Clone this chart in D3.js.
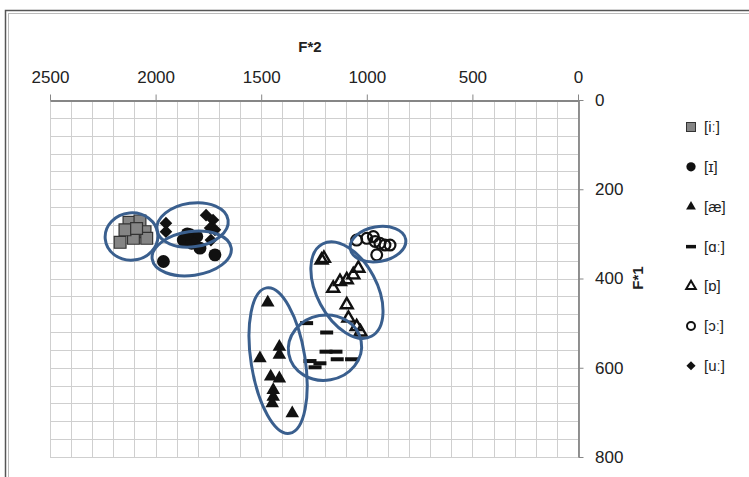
<!DOCTYPE html>
<html>
<head>
<meta charset="utf-8">
<script src="https://cdnjs.cloudflare.com/ajax/libs/d3/7.8.5/d3.min.js"></script>
<style>
  body { margin: 0; background: #fff; }
  text { font-family: "Liberation Sans", "DejaVu Sans", sans-serif; fill: #222; }
</style>
</head>
<body>
<div class="graph"></div>
<script>
var width = 749,
    height = 477;

// vowel tokens: F*2 (x) and F*1 (y)
var ii_f2 = [2126, 2074, 2050, 2168, 2105, 2042, 2145, 2090];
var ii_f1 = [274, 271, 295, 319, 310, 310, 291, 288];

var I_f2 = [1963, 1869, 1837, 1805, 1829, 1790, 1719, 1850];
var I_f1 = [362, 314, 302, 306, 321, 332, 347, 300];

var ae_f2 = [1469, 1506, 1414, 1414, 1455, 1414, 1443, 1443, 1448, 1353];
var ae_f1 = [454, 579, 553, 571, 620, 624, 650, 665, 680, 702];

var aa_f2 = [1285, 1190, 1193, 1146, 1140, 1072, 1269, 1222, 1245];
var aa_f1 = [500, 521, 564, 564, 581, 581, 585, 590, 599];

var o_f2 = [1214, 1203, 1040, 1064, 1095, 1127, 1159, 1095, 1087, 1048, 1030];
var o_f1 = [359, 355, 377, 392, 403, 407, 422, 459, 489, 508, 520];

var oo_f2 = [1048, 1000, 969, 961, 938, 914, 890, 953];
var oo_f1 = [314, 310, 306, 317, 321, 325, 325, 347];

var uu_f2 = [1951, 1951, 1761, 1728, 1742, 1719, 1738];
var uu_f1 = [276, 295, 258, 269, 287, 291, 314];

var labels = ["[iː]", "[ɪ]", "[æ]", "[ɑː]", "[ɒ]", "[ɔː]", "[uː]"];

// hand drawn cluster ellipses: centre f2, centre f1, half f2, half f1, tilt
var ell_f2 = [2114, 1825, 1829, 1420, 1198, 1094, 947];
var ell_f1 = [306, 280, 344, 584, 555, 426, 323];
var ell_r2 = [125, 170, 189, 128, 174, 142, 133];
var ell_r1 = [53, 49, 49, 165, 73, 117, 39];
var ell_rot = [-5, -8, -8, -9, -10, -28, -10];

var xTicks = [2500, 2000, 1500, 1000, 500, 0];
var yTicks = [0, 200, 400, 600, 800];

var svg = d3.select(".graph").append("svg")
    .attr("width", width)
    .attr("height", height);

svg.append("rect").attr("width", width).attr("height", height).attr("fill", "#fff");

// frame
svg.append("rect")
    .attr("x", 5.5).attr("y", 10.5).attr("width", 800).attr("height", 500)
    .attr("fill", "none").attr("stroke", "#555").attr("stroke-width", 1.5);
svg.append("rect")
    .attr("x", 8.5).attr("y", 13.5).attr("width", 800).attr("height", 500)
    .attr("fill", "none").attr("stroke", "#bbb").attr("stroke-width", 1);

var x = d3.scaleLinear().domain([2500, 0]).range([50, 578]);
var y = d3.scaleLinear().domain([0, 800]).range([100, 457]);

// grid
var g = svg.append("g");
g.selectAll(".vg").data(d3.range(0, 2501, 100)).enter().append("line")
    .attr("x1", function(d) { return Math.round(x(d)) + 0.5; })
    .attr("x2", function(d) { return Math.round(x(d)) + 0.5; })
    .attr("y1", y(0)).attr("y2", y(800))
    .attr("stroke", "#cfcfcf");
g.selectAll(".hg").data(d3.range(0, 801, 40)).enter().append("line")
    .attr("y1", function(d) { return Math.round(y(d)) + 0.5; })
    .attr("y2", function(d) { return Math.round(y(d)) + 0.5; })
    .attr("x1", x(2500)).attr("x2", x(0))
    .attr("stroke", "#cfcfcf");

// axes
var xAxis = svg.append("g")
    .attr("transform", "translate(0," + (Math.round(y(0)) + 0.5) + ")")
    .call(d3.axisTop(x).tickValues(xTicks).tickFormat(d3.format("d"))
        .tickSize(6).tickPadding(11.5).tickSizeOuter(0));
var yAxis = svg.append("g")
    .attr("transform", "translate(" + (Math.round(x(0)) + 0.5) + ",0)")
    .call(d3.axisRight(y).tickValues(yTicks).tickFormat(d3.format("d"))
        .tickSize(5).tickPadding(11.5).tickSizeOuter(0));
[xAxis, yAxis].forEach(function(a) {
  a.select(".domain").attr("stroke", "#868686").attr("stroke-width", 1.8);
  a.selectAll(".tick line").attr("stroke", "#868686");
  a.selectAll(".tick text").attr("font-size", 17).attr("fill", "#222")
      .style("font-family", "'Liberation Sans', 'DejaVu Sans', sans-serif");
});

svg.append("text").attr("x", 310).attr("y", 52)
    .attr("text-anchor", "middle").attr("font-size", 15).attr("font-weight", "bold")
    .text("F*2");
svg.append("text").attr("transform", "translate(643,278) rotate(-90)")
    .attr("text-anchor", "middle").attr("font-size", 15).attr("font-weight", "bold")
    .text("F*1");

// markers
function pts(a, b) { return a.map(function(v, i) { return [v, b[i]]; }); }
var series = [
  { pts: pts(ii_f2, ii_f1), type: "square" },
  { pts: pts(I_f2, I_f1), type: "circle" },
  { pts: pts(ae_f2, ae_f1), type: "tri" },
  { pts: pts(aa_f2, aa_f1), type: "dash" },
  { pts: pts(o_f2, o_f1), type: "otri" },
  { pts: pts(oo_f2, oo_f1), type: "ocircle" },
  { pts: pts(uu_f2, uu_f1), type: "diamond" }
];

function drawMarker(sel, type, k) {
  if (type === "square") {
    sel.append("path").attr("d", d3.symbol(d3.symbolSquare, 140 * k * k))
        .attr("fill", "#858585").attr("stroke", "#333").attr("stroke-width", 1.2);
  } else if (type === "circle") {
    sel.append("path").attr("d", d3.symbol(d3.symbolCircle, 130 * k * k)).attr("fill", "#111");
  } else if (type === "tri") {
    sel.append("path").attr("d", d3.symbol(d3.symbolTriangle, 80 * k * k)).attr("fill", "#111");
  } else if (type === "otri") {
    sel.append("path").attr("d", d3.symbol(d3.symbolTriangle, 62 * k * k))
        .attr("fill", "#fff").attr("fill-opacity", 0).attr("stroke", "#111").attr("stroke-width", 2.4);
  } else if (type === "ocircle") {
    sel.append("circle").attr("r", 5.4 * k)
        .attr("fill", "none").attr("stroke", "#111").attr("stroke-width", 2.2);
  } else if (type === "dash") {
    sel.append("rect").attr("x", -6.5 * k).attr("y", -2).attr("width", 13 * k).attr("height", 4)
        .attr("fill", "#111");
  } else if (type === "diamond") {
    sel.append("path").attr("d", d3.symbol(d3.symbolSquare, 80 * k * k))
        .attr("transform", "rotate(45)").attr("fill", "#111");
  }
}

series.forEach(function(s) {
  var m = svg.append("g").selectAll("g").data(s.pts).enter().append("g")
      .attr("transform", function(d) { return "translate(" + x(d[0]) + "," + y(d[1]) + ")"; });
  drawMarker(m, s.type, 1);
});

// cluster ellipses
svg.append("g").selectAll("ellipse").data(d3.range(ell_f2.length)).enter().append("ellipse")
    .attr("transform", function(i) {
      return "translate(" + x(ell_f2[i]) + "," + y(ell_f1[i]) + ") rotate(" + ell_rot[i] + ")";
    })
    .attr("rx", function(i) { return Math.abs(x(ell_f2[i] - ell_r2[i]) - x(ell_f2[i])); })
    .attr("ry", function(i) { return y(ell_f1[i] + ell_r1[i]) - y(ell_f1[i]); })
    .attr("fill", "none").attr("stroke", "#3a5f8e").attr("stroke-width", 3);

// legend
var leg = svg.append("g").selectAll("g").data(labels).enter().append("g")
    .attr("transform", function(d, i) { return "translate(691," + (127 + i * 39.8) + ")"; });
leg.each(function(d, i) {
  var gg = d3.select(this);
  var t = series[i].type;
  if (t === "square") {
    gg.append("rect").attr("x", -4.5).attr("y", -4.5).attr("width", 9).attr("height", 9)
        .attr("fill", "#858585").attr("stroke", "#333").attr("stroke-width", 1);
  } else if (t === "dash") {
    gg.append("rect").attr("x", -5).attr("y", -1.5).attr("width", 10).attr("height", 3.5).attr("fill", "#111");
  } else if (t === "ocircle") {
    gg.append("circle").attr("r", 4).attr("fill", "none").attr("stroke", "#111").attr("stroke-width", 2);
  } else if (t === "otri") {
    gg.append("path").attr("d", d3.symbol(d3.symbolTriangle, 40)).attr("fill", "none")
        .attr("stroke", "#111").attr("stroke-width", 2);
  } else {
    drawMarker(gg, t, 0.72);
  }
  gg.append("text").attr("x", 13).attr("dy", "0.35em").attr("font-size", 15).text(d);
});
</script>
</body>
</html>
